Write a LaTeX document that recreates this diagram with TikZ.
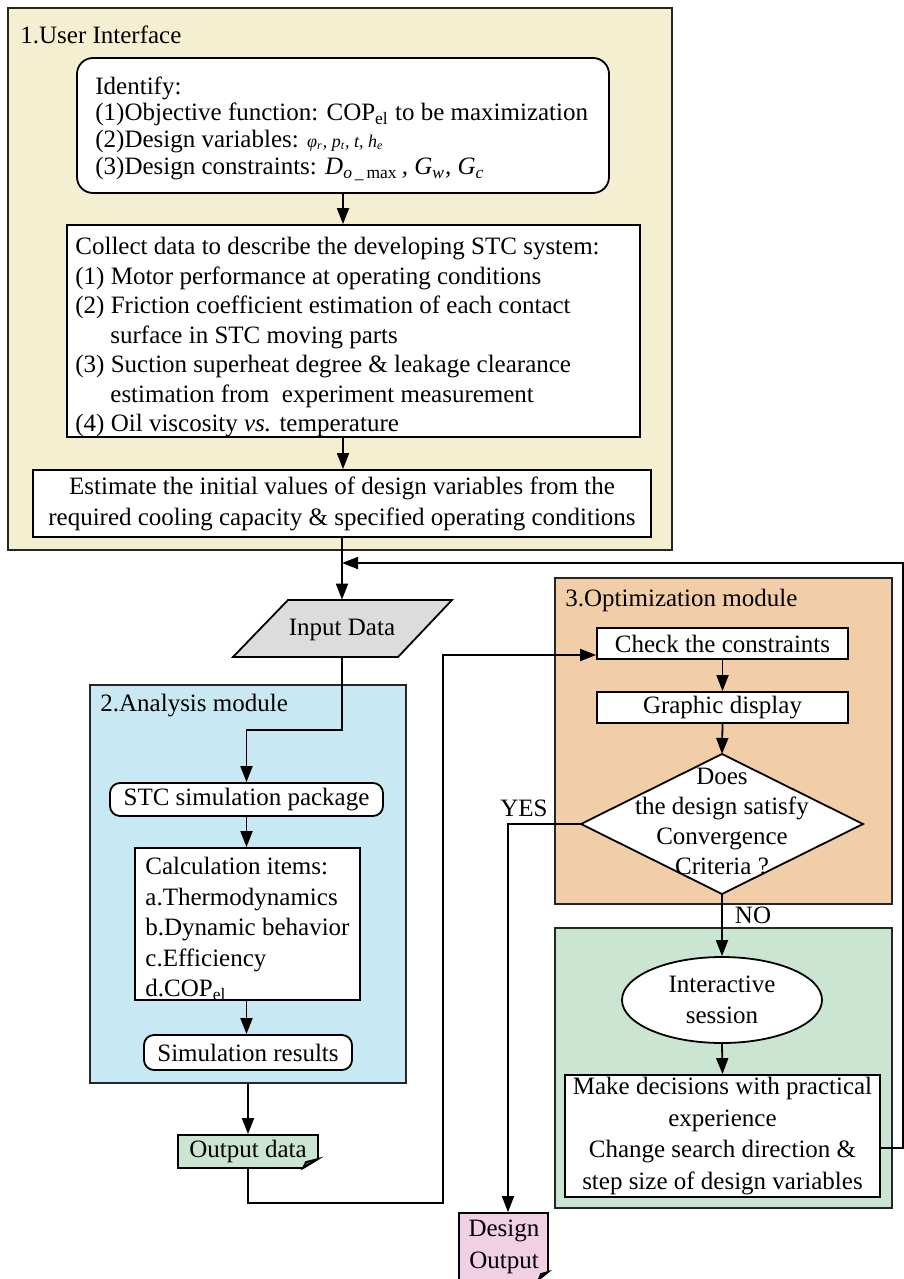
\documentclass[tikz,border=0pt]{standalone}
\usepackage{fontspec}
\setmainfont{Liberation Serif}
\usetikzlibrary{arrows.meta,fit,calc,shapes.geometric}
\definecolor{uibg}{RGB}{243,239,208}
\definecolor{anbg}{RGB}{200,232,243}
\definecolor{opbg}{RGB}{242,206,168}
\definecolor{grbg}{RGB}{202,230,211}
\definecolor{pkbg}{RGB}{240,208,226}
\definecolor{gybg}{RGB}{220,220,220}
\begin{document}
\begin{tikzpicture}[x=0.5pt,y=-0.5pt,
  font=\fontsize{12.5}{15.25}\selectfont,
  ln/.style={line width=0.9pt},
  arr/.style={ln,-{Triangle[length=8pt,width=6pt]}},
  box/.style={draw=black,ln,fill=white,inner sep=0pt},
  rbox/.style={box,rounded corners=5pt},
  panel/.style={draw=black!85,line width=0.9pt,inner sep=0pt},
  lbl/.style={anchor=west,inner sep=0pt},
  txt/.style={align=left,anchor=north west,inner sep=0pt},
  ctxt/.style={align=center,inner sep=0pt}]
\useasboundingbox (0,0) rectangle (904,1279);
\fill[white] (0,0) rectangle (904,1279);

% panels
\node[panel,fill=uibg,fit={(8,8)(672,550)}] (p1) {};
\node[panel,fill=anbg,fit={(90,685)(406,1083)}] (p2) {};
\node[panel,fill=opbg,fit={(555,578)(892,904)}] (p3) {};
\node[panel,fill=grbg,fit={(555,928)(892,1208)}] (p4) {};
\node[lbl] (l1) at (20,35) {1.User Interface};
\node[lbl] (l2) at (100,706) {2.Analysis module};
\node[lbl] (l3) at (565,600) {3.Optimization module};

% user interface
\node[box,rounded corners=8pt,fit={(77,58)(609,193)}] (idbox) {};
\node[txt,font=\fontsize{12.5}{13.4}\selectfont] (idt) at (95,76) {Identify:\\
(1)Objective function: COP\textsubscript{el} to be maximization\\
(2)Design variables: {\small\itshape φ\textsubscript{r}, p\textsubscript{t}, t, h\textsubscript{e}}\\
(3)Design constraints: {\itshape D\textsubscript{o\,\_\,\upshape max}\,, G\textsubscript{w}, G\textsubscript{c}}};

\node[box,fit={(67,225)(640,437)}] (colbox) {};
\node[txt,font=\fontsize{12.5}{14.75}\selectfont] (colt) at (75,237) {Collect data to describe the developing STC system:\\
(1) Motor performance at operating conditions\\
(2) Friction coefficient estimation of each contact\\
\hspace*{1.4em}surface in STC moving parts\\
(3) Suction superheat degree \& leakage clearance\\
\hspace*{1.4em}estimation from\ \ experiment measurement\\
(4) Oil viscosity \textit{vs.} temperature};

\node[box,fit={(33,470)(651,537)}] (est) {};
\node[ctxt,font=\fontsize{12.5}{15.5}\selectfont] (estt) at (est.center) {Estimate the initial values of design variables from the\\required cooling capacity \& specified operating conditions};

% input data
\node[inner sep=0pt,fit={(232,600)(452,657)}] (inp) {};
\draw[ln,fill=gybg] (288,600) -- (452,600) -- (398,657) -- (233,657) -- cycle;
\node[ctxt] (inpt) at (342,630) {Input Data};

% analysis
\node[rbox,fit={(110,783)(383,816)}] (stc) {};
\node[ctxt] (stct) at (stc.center) {STC simulation package};
\node[box,fit={(135,848)(360,1000)}] (calc) {};
\node[txt] (calct) at (145,857) {Calculation items:\\a.Thermodynamics\\b.Dynamic behavior\\c.Efficiency\\d.COP\textsubscript{el}};
\node[rbox,fit={(144,1035)(352,1070)}] (simres) {};
\node[ctxt] (simrest) at (simres.center) {Simulation results};

% output data
\node[box,fill=grbg,fit={(178,1135)(318,1168)}] (out) {};
\node[ctxt] (outt) at (out.center) {Output data};
\fill[white] (303,1169) -- (319,1169) -- (319,1159) -- cycle;
\draw[ln] (303,1168) -- (318,1159);
\draw[ln,fill=black!70] (303,1168) -- (306,1162) -- (318,1159) -- cycle;

% design output
\node[box,fill=pkbg,fit={(459,1213)(548,1282)}] (dout) {};
\node[ctxt,font=\fontsize{12.5}{16}\selectfont] (doutt) at (504,1247) {Design\\Output};
\fill[white] (539,1280) -- (549,1280) -- (549,1272) -- cycle;
\draw[ln] (539,1279) -- (548,1272);
\draw[ln,fill=black!70] (539,1279) -- (541,1274) -- (548,1272) -- cycle;

% optimization
\node[box,fit={(597,628)(848,659)}] (check) {};
\node[ctxt] (checkt) at (check.center) {Check the constraints};
\node[box,fit={(597,692)(848,723)}] (graph) {};
\node[ctxt] (grapht) at (graph.center) {Graphic display};
\coordinate (dt) at (722,754);
\coordinate (dr) at (863,824);
\coordinate (db) at (722,894);
\coordinate (dl) at (581,824);
\draw[ln,fill=white] (dt) -- (dr) -- (db) -- (dl) -- cycle;
\node[ctxt,font=\fontsize{12.5}{15}\selectfont] (dtext) at (722,821) {Does\\the design satisfy\\Convergence\\Criteria ?};

\node[draw,ln,fill=white,ellipse,minimum width=100pt,minimum height=43pt,inner sep=0pt] (ell) at (722,1000) {};
\node[ctxt] (ellt) at (ell.center) {Interactive\\session};
\node[box,fit={(565,1075)(880,1197)}] (make) {};
\node[ctxt,font=\fontsize{12.5}{15.75}\selectfont] (maket) at (make.center) {Make decisions with practical\\experience\\Change search direction \&\\step size of design variables};

\node[ctxt] (yes) at (524,808) {YES};
\node[ctxt] (no) at (753,915) {NO};

% connectors
\draw[arr] (idbox.south) -- (idbox.south |- colbox.north);
\draw[arr] (idbox.south |- colbox.south) -- (idbox.south |- est.north);
\draw[arr] (est.south) -- (est.south |- inp.north);
\draw[arr] (inp.south) -- (inp.south |- 0,730) -| (stc.north);
\draw[arr] (stc.south) -- (stc.south |- calc.north);
\draw[arr] (stc.south |- calc.south) -- (stc.south |- simres.north);
\draw[arr] (out.north |- p2.south) -- (out.north);
\draw[arr] (out.south) -- (out.south |- 0,1203) -| (443,655) -- (check.west |- 0,655);
\draw[arr] (check.south) -- (graph.north);
\draw[arr] (graph.south) -- (dt);
\draw[arr] (dl) -| (dout.north -| 508,0);
\draw[arr] (db) -- (ell.north);
\draw[arr] (ell.south) -- (make.north);
\draw[arr] (make.east |- 0,1148) -- (903,1148) |- (est.south |- 0,563);
\end{tikzpicture}
\end{document}
